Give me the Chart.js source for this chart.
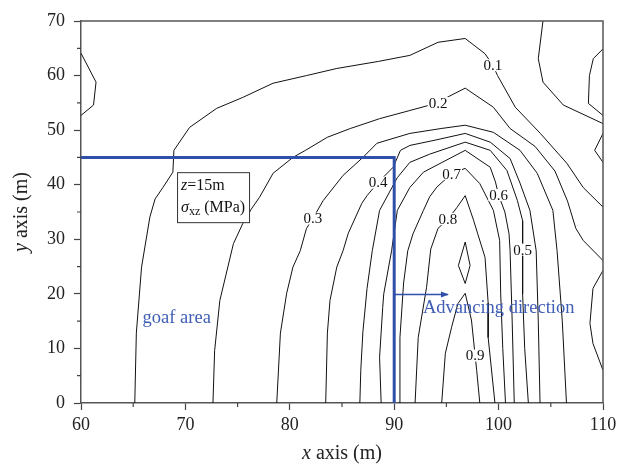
<!DOCTYPE html>
<html>
<head>
<meta charset="utf-8">
<script src="https://cdn.jsdelivr.net/npm/chart.js@4.4.0/dist/chart.umd.min.js"></script>
<style>
  html, body { margin: 0; padding: 0; background: #fff; }
</style>
</head>
<body>
<canvas id="myChart" width="629" height="468"></canvas>
<script>
// axis ticks
const xTicks = [60, 70, 80, 90, 100, 110];
const yTicks = [0, 10, 20, 30, 40, 50, 60, 70];
const xMinor = [65, 75, 85, 95, 105];
const yMinor = [5, 15, 25, 35, 45, 55, 65];

// contour lines of sigma_xz as [x, y] in metres
const c01 = [[65.15,0],[65.3,12.8],[65.8,24.9],[66.6,34.1],[67.1,37.4],[67.85,39.5],[68.8,42.3],[68.9,46.3],[70.4,50.5],[73.0,54.0],[75.5,56.0],[78.4,58.6],[81.6,60.0],[84.5,61.3],[88.5,62.6],[91.5,63.7],[94.2,66.1],[96.8,66.8],[98.7,64.0],[99.45,61.9],[99.9,60.0],[101.6,54.2],[104.0,49.4],[106.55,43.9],[108.1,39.5],[110,35.9]];
const c02 = [[72.64,0],[72.8,9.6],[73.3,18.8],[74.6,29.2],[75.5,32.9],[76.3,35.5],[77.1,37.7],[78.4,42.1],[80.3,45.0],[81.5,46.3],[83.6,48.7],[85.8,50.3],[88.6,52.1],[91.5,53.6],[94.2,55.0],[95.06,56.0],[96.8,57.7],[99.5,54.2],[101.1,50.3],[103.5,47.0],[105.4,42.5],[106.6,37.0],[107.4,32.0],[108.1,29.8],[110,26.1]];
const c03 = [[78.75,0],[79.1,12.8],[79.7,20.1],[80.3,24.9],[81.0,27.9],[81.6,32.0],[82.2,33.8],[83.2,37.1],[85.1,41.7],[87.0,45.0],[88.35,47.6],[91.5,49.4],[94.5,50.3],[96.8,50.9],[99.5,49.6],[102.05,46.3],[103.7,42.1],[105.2,35.3],[105.6,27.9],[106.1,15.0],[106.5,0]];
const c04 = [[83.44,0],[83.6,12.8],[83.85,18.8],[84.5,24.9],[85.1,27.9],[85.6,31.1],[86.9,36.6],[87.4,38.0],[88.45,40.4],[89.9,43.2],[90.6,46.3],[91.5,47.2],[94.0,48.2],[96.8,49.4],[99.2,47.8],[101.1,44.8],[102.05,40.3],[103.0,35.3],[103.6,27.9],[103.8,15.0],[103.97,0]];
const c05 = [[86.71,0],[86.8,6],[87.0,13],[87.4,21],[87.9,27.9],[88.6,35.3],[90.3,41.3],[91.5,44.1],[93.4,45.6],[96.8,47.8],[99.2,46.3],[100.8,42.6],[101.8,37.1],[102.3,33.4],[102.3,28.1],[102.3,20],[102.5,10],[102.85,0]];
const c06 = [[88.75,0],[88.6,8.4],[88.9,17.5],[89.0,20],[89.75,27.9],[90.3,35.3],[91.5,39.5],[92.8,42.3],[94.5,44.0],[96.8,46.3],[99.2,43.2],[99.7,40.5],[100.0,38.1],[100.6,35.0],[101.0,31.0],[101.1,27.9],[101.3,15],[101.5,0]];
const c07 = [[90.46,0],[90.55,12],[90.9,22],[91.3,27.9],[91.8,31],[92.8,35.3],[93.4,37.8],[94.1,39.6],[95.5,42.0],[96.8,43.0],[98.2,40.2],[99.5,35.3],[100.1,29.8],[100.2,20],[100.4,10],[100.66,0]];
const c08 = [[92.0,0],[92.3,12],[93.1,21.2],[93.5,28.2],[94.2,32.0],[95.15,33.7],[96.0,35.8],[96.8,38.0],[97.6,33.5],[98.0,31.0],[98.7,26.7],[99.0,18.3],[99.0,12],[99.65,0]];
const c09 = [[94.55,0],[94.9,9.1],[95.5,13.9],[96.1,18.2],[96.8,20.1],[97.4,15.2],[97.75,8.7],[97.9,6.0],[98.2,0]];
const c09island = [[96.8,29.5],[97.27,25.2],[96.8,21.9],[96.15,25.2],[96.8,29.5]];
const edgeTopLeft = [[60,64.1],[61.44,58.8],[61.2,54.6],[60,52.7]];
const edgeTop = [[104.25,70],[103.8,63.1],[104.25,58.8],[106.2,54.6],[110,51.2]];
const edgeTopRight = [[110,64.9],[109.07,63.1],[108.7,60.0],[108.6,54.9],[110,52.7]];
const edgeMidRight = [[110,49.4],[109.2,46.3],[110,44.1]];
const edgeLowRight = [[110,24.3],[109.04,21.0],[108.75,14.6],[109.04,10.9],[110,6.0]];

const contours = [c01, c02, c03, c04, c05, c06, c07, c08, c09, c09island,
                  edgeTopLeft, edgeTop, edgeTopRight, edgeMidRight, edgeLowRight];

// contour labels
const labelText = ['0.1', '0.2', '0.3', '0.4', '0.5', '0.6', '0.7', '0.8', '0.9'];
const labelX = [99.45, 94.2, 82.2, 88.45, 102.3, 100.0, 95.5, 95.15, 97.75];
const labelY = [61.9, 55.0, 33.8, 40.4, 28.1, 38.1, 42.0, 33.7, 8.7];

// goaf boundary and the advancing arrow
const goafX = [60, 90, 90];
const goafY = [45, 45, 0];
const arrowX = [90, 95.15];
const arrowY = [19.9, 19.9];

const SERIF = '"Liberation Serif", "DejaVu Serif", serif';
const BLUE = '#2f4fa8';
const BLUE_TEXT = '#3f5db5';

function toPts(arr) {
  return arr.map(p => ({x: p[0], y: p[1]}));
}

// draw a row of text pieces with different fonts, left to right
function drawRuns(ctx, runs, x, y, align) {
  let total = 0;
  runs.forEach(r => { ctx.font = r.font; total += ctx.measureText(r.t).width; });
  let cx = align === 'center' ? x - total / 2 : x;
  runs.forEach(r => {
    ctx.font = r.font;
    ctx.fillText(r.t, cx, y + (r.dy || 0));
    cx += ctx.measureText(r.t).width;
  });
}

const decor = {
  id: 'decor',
  afterDatasetsDraw(chart) {
    const {ctx, chartArea: a, scales: {x, y}} = chart;
    ctx.save();

    // top and right frame
    ctx.strokeStyle = '#555';
    ctx.lineWidth = 1.5;
    ctx.beginPath();
    ctx.moveTo(a.left, a.top);
    ctx.lineTo(a.right, a.top);
    ctx.lineTo(a.right, a.bottom);
    ctx.stroke();

    // minor ticks
    ctx.lineWidth = 1.2;
    ctx.strokeStyle = '#444';
    ctx.beginPath();
    xMinor.forEach(v => {
      const px = x.getPixelForValue(v);
      ctx.moveTo(px, a.bottom); ctx.lineTo(px, a.bottom + 4);
    });
    yMinor.forEach(v => {
      const py = y.getPixelForValue(v);
      ctx.moveTo(a.left, py); ctx.lineTo(a.left - 4, py);
    });
    ctx.stroke();

    // contour labels on white patches
    ctx.font = '15px ' + SERIF;
    ctx.textAlign = 'center';
    ctx.textBaseline = 'middle';
    labelText.forEach((t, i) => {
      const px = x.getPixelForValue(labelX[i]);
      const py = y.getPixelForValue(labelY[i]);
      const w = ctx.measureText(t).width;
      ctx.fillStyle = '#fff';
      ctx.fillRect(px - w / 2 - 1, py - 6, w + 2, 12);
      ctx.fillStyle = '#111';
      ctx.fillText(t, px, py + 1);
    });

    // arrow head
    const ax = x.getPixelForValue(arrowX[1]);
    const ay = y.getPixelForValue(arrowY[1]);
    ctx.fillStyle = BLUE;
    ctx.beginPath();
    ctx.moveTo(ax + 1, ay);
    ctx.lineTo(ax - 7, ay - 3);
    ctx.lineTo(ax - 7, ay + 3);
    ctx.closePath();
    ctx.fill();

    // info box
    const bx = x.getPixelForValue(69.2);
    const by = y.getPixelForValue(42.3);
    ctx.fillStyle = '#fff';
    ctx.fillRect(bx, by, 72, 50);
    ctx.strokeStyle = '#333';
    ctx.lineWidth = 1;
    ctx.strokeRect(bx + 0.5, by + 0.5, 72, 50);
    ctx.fillStyle = '#111';
    ctx.textAlign = 'left';
    ctx.textBaseline = 'alphabetic';
    drawRuns(ctx, [
      {t: 'z', font: 'italic 16px ' + SERIF},
      {t: '=15m', font: '16px ' + SERIF}
    ], bx + 4, by + 18);
    drawRuns(ctx, [
      {t: 'σ', font: 'italic 16px ' + SERIF},
      {t: 'xz', font: '12px ' + SERIF, dy: 3},
      {t: ' (MPa)', font: '16px ' + SERIF}
    ], bx + 4, by + 40);

    // blue annotations
    ctx.fillStyle = BLUE_TEXT;
    ctx.font = '18.5px ' + SERIF;
    ctx.textBaseline = 'middle';
    ctx.fillText('goaf area', x.getPixelForValue(65.9), y.getPixelForValue(15.5));
    ctx.fillText('Advancing direction', x.getPixelForValue(92.75), y.getPixelForValue(17.3));

    // axis titles
    ctx.fillStyle = '#222';
    ctx.textBaseline = 'middle';
    drawRuns(ctx, [
      {t: 'x', font: 'italic 20px ' + SERIF},
      {t: ' axis (m)', font: '20px ' + SERIF}
    ], (a.left + a.right) / 2, 454, 'center');
    ctx.translate(22, (a.top + a.bottom) / 2);
    ctx.rotate(-Math.PI / 2);
    drawRuns(ctx, [
      {t: 'y', font: 'italic 20px ' + SERIF},
      {t: ' axis (m)', font: '20px ' + SERIF}
    ], 0, 0, 'center');

    ctx.restore();
  }
};

const datasets = [
  {
    data: goafX.map((v, i) => ({x: v, y: goafY[i]})),
    borderColor: BLUE, borderWidth: 3, order: 0
  },
  {
    data: arrowX.map((v, i) => ({x: v, y: arrowY[i]})),
    borderColor: BLUE, borderWidth: 1.5, order: 0
  }
];
contours.forEach(c => {
  datasets.push({data: toPts(c), borderColor: '#111', borderWidth: 1, order: 1});
});
datasets.forEach(d => {
  d.showLine = true;
  d.pointRadius = 0;
  d.tension = 0;
  d.fill = false;
});

const tickFont = {family: SERIF, size: 18};

new Chart(document.getElementById('myChart').getContext('2d'), {
  type: 'scatter',
  data: {datasets: datasets},
  options: {
    responsive: false,
    animation: false,
    layout: {padding: {top: 21, right: 26, left: 0, bottom: 0}},
    plugins: {legend: {display: false}, tooltip: {enabled: false}},
    scales: {
      x: {
        type: 'linear', min: 60, max: 110,
        afterBuildTicks: s => { s.ticks = xTicks.map(v => ({value: v})); },
        ticks: {color: '#222', font: tickFont, padding: 4, maxRotation: 0},
        grid: {drawOnChartArea: false, drawTicks: true, tickLength: 7, tickColor: '#444', tickWidth: 1.2},
        border: {display: true, color: '#555', width: 1.5},
        afterFit: s => { s.height = 65; }
      },
      y: {
        type: 'linear', min: 0, max: 70,
        afterBuildTicks: s => { s.ticks = yTicks.map(v => ({value: v})); },
        ticks: {color: '#222', font: tickFont, padding: 9},
        grid: {drawOnChartArea: false, drawTicks: true, tickLength: 7, tickColor: '#444', tickWidth: 1.2},
        border: {display: true, color: '#555', width: 1.5},
        afterFit: s => { s.width = 81; }
      }
    }
  },
  plugins: [decor]
});
</script>
</body>
</html>
